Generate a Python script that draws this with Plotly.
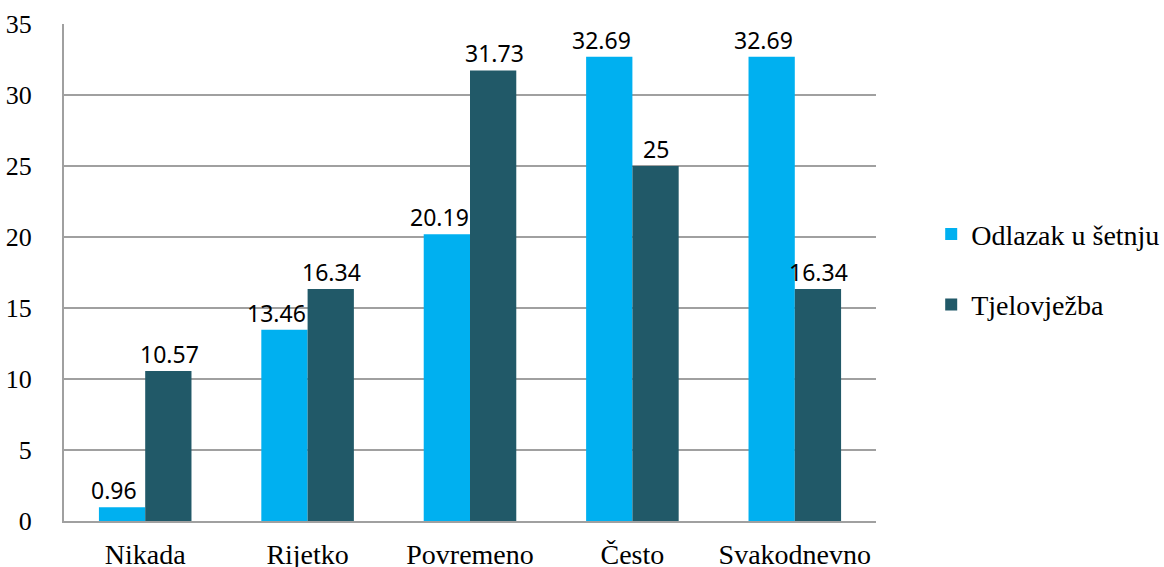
import plotly.graph_objects as go

categories = ["Nikada", "Rijetko", "Povremeno", "Često", "Svakodnevno"]
walk = [0.96, 13.46, 20.19, 32.69, 32.69]
exercise = [10.57, 16.34, 31.73, 25, 16.34]
series_names = ["Odlazak u šetnju", "Tjelovježba"]
y_ticks = [0, 5, 10, 15, 20, 25, 30, 35]

c_walk = "#00B0F0"
c_ex = "#215968"
serif = "Times New Roman"
sans = "Noto Sans"

fig = go.Figure()
fig.add_trace(go.Bar(x=categories, y=walk, name=series_names[0], marker_color=c_walk,
                     marker_line_width=0, legendgroup="a"))
fig.add_trace(go.Bar(x=categories, y=exercise, name=series_names[1], marker_color=c_ex,
                     marker_line_width=0, legendgroup="b"))

def fmt(v):
    return ("%g" % v)

annotations = []
for c, v in zip(categories, walk):
    annotations.append(dict(x=c, y=v, xref="x", yref="y", text=fmt(v), showarrow=False,
                            xshift=-31, yshift=17, yanchor="middle",
                            font=dict(family=sans, size=23, color="#000000")))
for c, v in zip(categories, exercise):
    annotations.append(dict(x=c, y=v, xref="x", yref="y", text=fmt(v), showarrow=False,
                            xshift=24, yshift=17, yanchor="middle",
                            font=dict(family=sans, size=23, color="#000000")))

fig.update_layout(
    width=1164, height=567,
    margin=dict(l=64, r=288, t=24, b=46),
    paper_bgcolor="white", plot_bgcolor="white",
    font=dict(family=serif, color="#000000"),
    barmode="group", bargap=0.43, bargroupgap=0,
    annotations=annotations,
    legend=dict(xref="container", yref="container", x=0.8, y=0.525,
                xanchor="left", yanchor="middle",
                font=dict(family=serif, size=28, color="#000000"),
                tracegroupgap=31, itemwidth=30),
    showlegend=True,
)
fig.update_xaxes(showgrid=False, showline=True, linecolor="#A0A0A0", linewidth=2,
                 ticks="", tickfont=dict(family=serif, size=28, color="#000000"),
                 ticklabelstandoff=7, automargin=False)
fig.update_yaxes(range=[0, 35], tickvals=y_ticks, showgrid=True, gridcolor="#A0A0A0",
                 gridwidth=2, showline=True, linecolor="#A0A0A0", linewidth=2,
                 ticks="", zeroline=False,
                 tickfont=dict(family=serif, size=26, color="#000000"),
                 ticklabelstandoff=25, automargin=False)

fig.write_html("out.html", config={"displayModeBar": False},
               post_script="document.body.style.margin='0';document.body.style.overflow='hidden';")
